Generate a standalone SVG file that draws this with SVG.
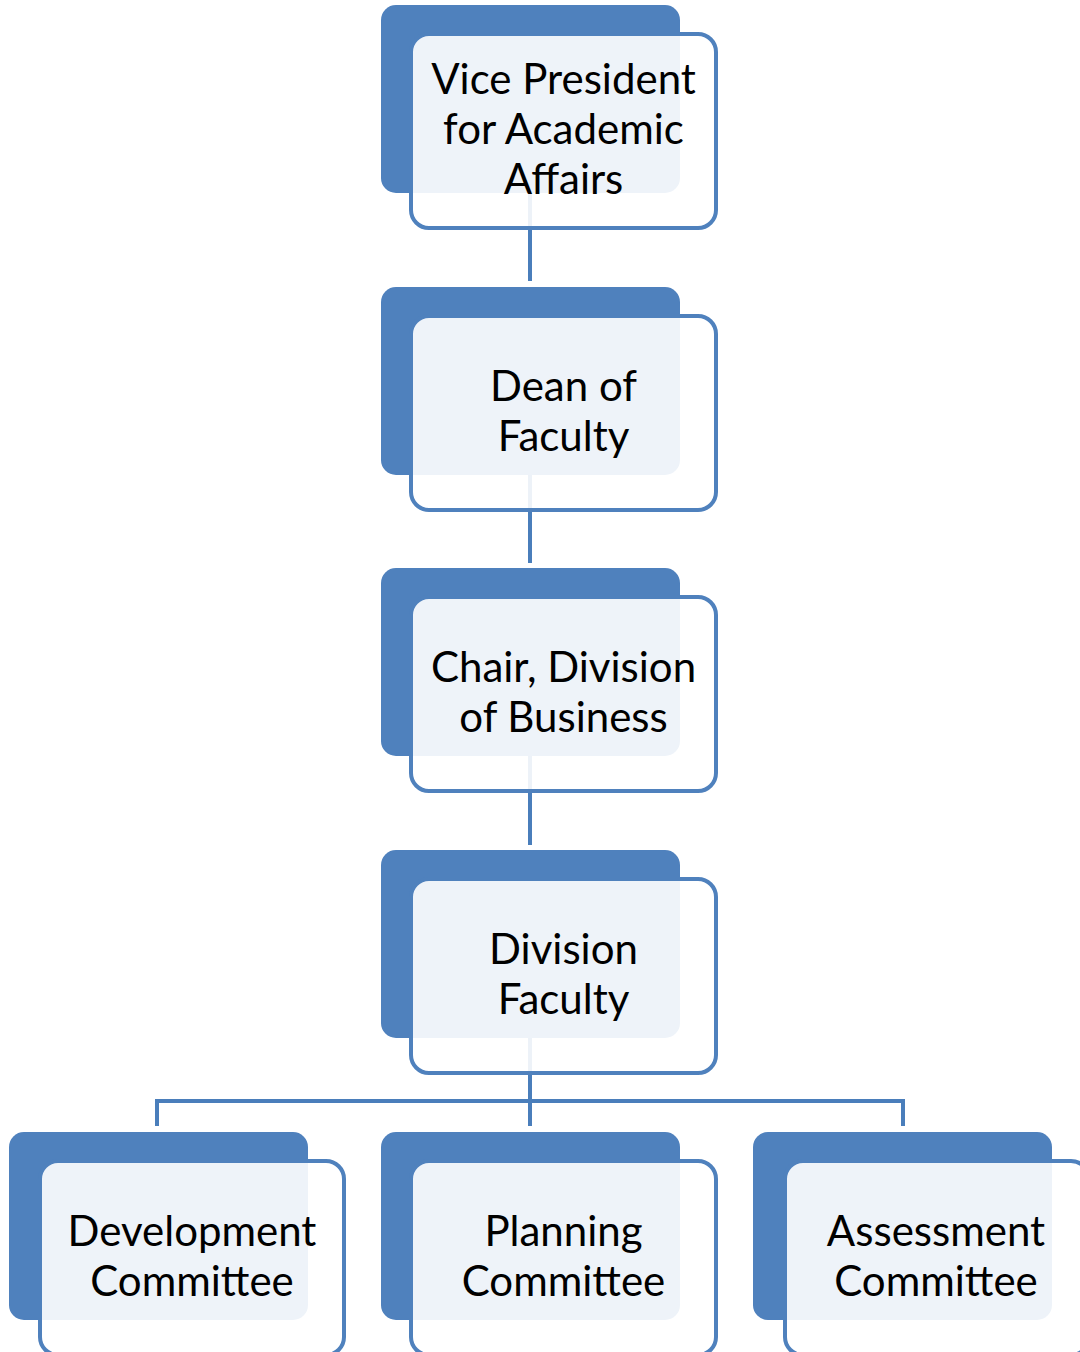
<svg xmlns="http://www.w3.org/2000/svg" width="1080" height="1352" viewBox="0 0 1080 1352">
<style>
.back{fill:#4F81BD;}
.front{fill:#FFFFFF;fill-opacity:0.9;stroke:#4F81BD;stroke-width:4;}
.conn{fill:none;stroke:#4A7EBB;stroke-width:4;}
.lbl{font-family:Lato,"Liberation Sans",sans-serif;font-size:42px;fill:#000;text-anchor:middle;}
</style>
<rect width="1080" height="1352" fill="#FFFFFF"/>
<g id="connectors">
<line class="conn" x1="530" y1="130" x2="530" y2="281"/>
<line class="conn" x1="530" y1="412" x2="530" y2="563"/>
<line class="conn" x1="530" y1="694" x2="530" y2="845"/>
<line class="conn" x1="530" y1="976" x2="530" y2="1126"/>
<polyline class="conn" points="157,1126 157,1101 903,1101 903,1126"/>
</g>
<g id="vp">
<rect class="back" x="381" y="5" width="299" height="188" rx="15"/>
<rect class="front" x="411" y="34" width="305" height="194" rx="18"/>
<text class="lbl" x="563.5" y="94">Vice President</text>
<text class="lbl" x="563.5" y="144">for Academic</text>
<text class="lbl" x="563.5" y="194">Affairs</text>
</g>
<g id="dean">
<rect class="back" x="381" y="287" width="299" height="188" rx="15"/>
<rect class="front" x="411" y="316" width="305" height="194" rx="18"/>
<text class="lbl" x="563.5" y="401">Dean of</text>
<text class="lbl" x="563.5" y="451">Faculty</text>
</g>
<g id="chair">
<rect class="back" x="381" y="568" width="299" height="188" rx="15"/>
<rect class="front" x="411" y="597" width="305" height="194" rx="18"/>
<text class="lbl" x="563.5" y="682">Chair, Division</text>
<text class="lbl" x="563.5" y="732">of Business</text>
</g>
<g id="faculty">
<rect class="back" x="381" y="850" width="299" height="188" rx="15"/>
<rect class="front" x="411" y="879" width="305" height="194" rx="18"/>
<text class="lbl" x="563.5" y="964">Division</text>
<text class="lbl" x="563.5" y="1014">Faculty</text>
</g>
<g id="development">
<rect class="back" x="9" y="1132" width="299" height="188" rx="15"/>
<rect class="front" x="40" y="1161" width="304" height="194" rx="18"/>
<text class="lbl" x="192" y="1246">Development</text>
<text class="lbl" x="192" y="1296">Committee</text>
</g>
<g id="planning">
<rect class="back" x="381" y="1132" width="299" height="188" rx="15"/>
<rect class="front" x="411" y="1161" width="305" height="194" rx="18"/>
<text class="lbl" x="563.5" y="1246">Planning</text>
<text class="lbl" x="563.5" y="1296">Committee</text>
</g>
<g id="assessment">
<rect class="back" x="753" y="1132" width="299" height="188" rx="15"/>
<rect class="front" x="785" y="1161" width="304" height="194" rx="18"/>
<text class="lbl" x="936" y="1246">Assessment</text>
<text class="lbl" x="936" y="1296">Committee</text>
</g>
</svg>
